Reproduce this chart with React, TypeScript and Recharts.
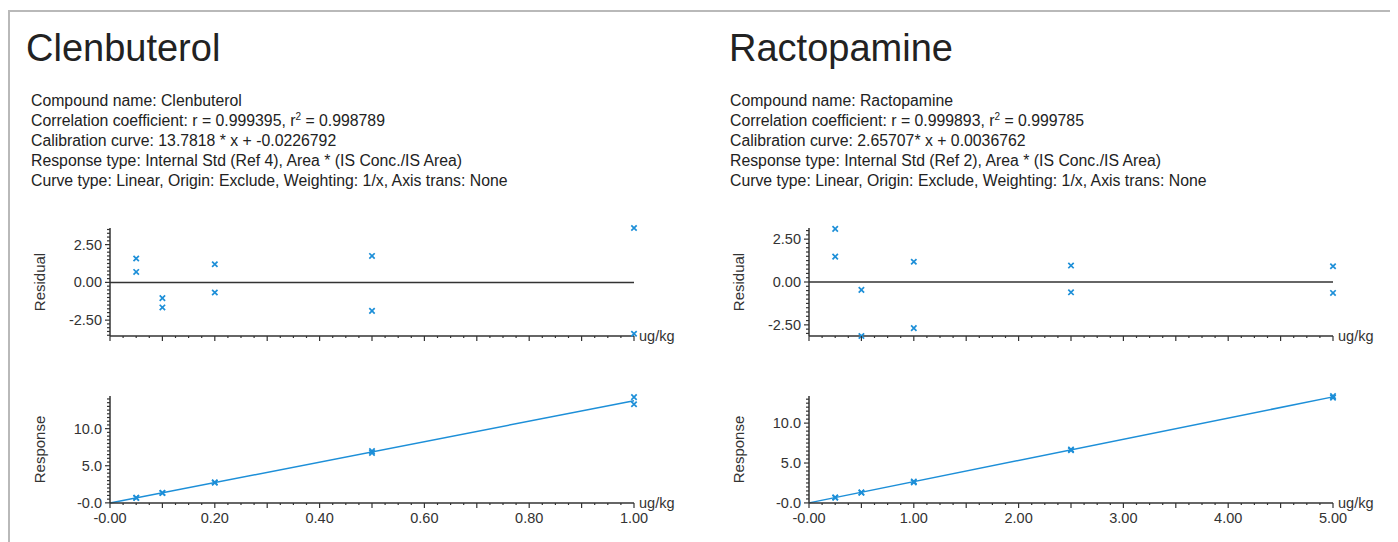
import { ComposedChart, Scatter, Line, XAxis, YAxis, ReferenceLine } from "recharts";

// concentrations (ug/kg), two replicates per level
const clenConc = [0.05, 0.05, 0.1, 0.1, 0.2, 0.2, 0.5, 0.5, 1.0, 1.0];
const clenResidual = [1.58, 0.69, -1.04, -1.66, 1.2, -0.67, 1.75, -1.89, 3.6, -3.4];
const clenResponse = [0.68, 0.67, 1.34, 1.33, 2.77, 2.71, 6.97, 6.73, 14.25, 13.29];
const clenFitX = [0, 1.0];
const clenFitY = [-0.02, 13.76];

const ractoConc = [0.25, 0.25, 0.5, 0.5, 1.0, 1.0, 2.5, 2.5, 5.0, 5.0];
const ractoResidual = [3.1, 1.48, -0.46, -3.15, 1.18, -2.69, 0.96, -0.6, 0.92, -0.64];
const ractoResponse = [0.68, 0.67, 1.32, 1.27, 2.69, 2.58, 6.7, 6.6, 13.39, 13.2];
const ractoFitX = [0, 5.0];
const ractoFitY = [0.004, 13.29];

const clenXLabels = ["-0.00", "0.20", "0.40", "0.60", "0.80", "1.00"];
const ractoXLabels = ["-0.00", "1.00", "2.00", "3.00", "4.00", "5.00"];
const residualLabels = ["-2.50", "0.00", "2.50"];
const responseLabels = ["-0.0", "5.0", "10.0"];

const clenInfo = [
  "Compound name: Clenbuterol",
  "Correlation coefficient: r = 0.999395, r|2| = 0.998789",
  "Calibration curve: 13.7818 * x + -0.0226792",
  "Response type: Internal Std (Ref 4), Area * (IS Conc./IS Area)",
  "Curve type: Linear, Origin: Exclude, Weighting: 1/x, Axis trans: None",
];
const ractoInfo = [
  "Compound name: Ractopamine",
  "Correlation coefficient: r = 0.999893, r|2| = 0.999785",
  "Calibration curve: 2.65707* x + 0.0036762",
  "Response type: Internal Std (Ref 2), Area * (IS Conc./IS Area)",
  "Curve type: Linear, Origin: Exclude, Weighting: 1/x, Axis trans: None",
];

const BLUE = "#1d8fd8";
const AXIS = "#333";
const FONT = "'Liberation Sans', Arial, sans-serif";

const steps = (from: number, to: number, step: number) => {
  const out: number[] = [];
  const n = Math.round((to - from) / step);
  for (let i = 0; i <= n; i++) out.push(+(from + i * step).toFixed(4));
  return out;
};
const near = (a: number, b: number) => Math.abs(a - b) < 1e-6;

const Cross = (props: any) => {
  const { cx, cy } = props;
  if (cx == null || cy == null) return null;
  const s = 2.7;
  return (
    <path
      d={`M${cx - s},${cy - s}L${cx + s},${cy + s}M${cx - s},${cy + s}L${cx + s},${cy - s}`}
      stroke={BLUE}
      strokeWidth={1.7}
    />
  );
};

const makeXTick = (majorStep: number, labelVals: number[], labels: string[] | null, maxX: number) => (props: any) => {
  const { x, y, payload } = props;
  const v = payload.value;
  const ratio = v / majorStep;
  const major = near(ratio, Math.round(ratio));
  const li = labels ? labelVals.findIndex((l) => near(l, v)) : -1;
  return (
    <g>
      <line x1={x} x2={x} y1={y} y2={y + (major ? 5 : 2)} stroke={AXIS} strokeWidth={1.2} />
      {li >= 0 && labels && (
        <text x={x} y={y + 20} textAnchor="middle" fontSize={14.5} fill={AXIS} fontFamily={FONT}>
          {labels[li]}
        </text>
      )}
      {near(v, maxX) && (
        <text x={x + 5} y={y + 5} fontSize={14.5} fill={AXIS} fontFamily={FONT}>
          ug/kg
        </text>
      )}
    </g>
  );
};

const makeYTick = (majorVals: number[], labels: string[]) => (props: any) => {
  const { x, y, payload } = props;
  const v = payload.value;
  const li = majorVals.findIndex((m) => near(m, v));
  return (
    <g>
      <line x1={x} x2={x - (li >= 0 ? 5 : 3)} y1={y} y2={y} stroke={AXIS} strokeWidth={1.2} />
      {li >= 0 && (
        <text x={x - 8} y={y + 5} textAnchor="end" fontSize={14.5} fill={AXIS} fontFamily={FONT}>
          {labels[li]}
        </text>
      )}
    </g>
  );
};

const axisLine = { stroke: AXIS, strokeWidth: 1.5 };

type PanelProps = {
  left: number;
  titleLeft: number;
  title: string;
  info: string[];
  conc: number[];
  residual: number[];
  response: number[];
  fitX: number[];
  fitY: number[];
  xMax: number;
  xMajor: number;
  xLabelVals: number[];
  xLabels: string[];
  resDomain: [number, number];
  respDomain: [number, number];
};

const W = 674;
const YW = 90;

const Panel = (p: PanelProps) => {
  const resData = p.conc.map((x, i) => ({ x, y: p.residual[i] }));
  const respData = p.conc.map((x, i) => ({ x, y: p.response[i] }));
  const fitData = p.fitX.map((x, i) => ({ x, y: p.fitY[i] }));
  const xTicks = steps(0, p.xMax, p.xMajor / 4);
  const resTicks = steps(-3.5, 3.5, 0.25).filter((t) => t >= p.resDomain[0] && t <= p.resDomain[1]);
  const respTicks = steps(0, 14, 0.5).filter((t) => t >= p.respDomain[0] && t <= p.respDomain[1]);
  const margin = { top: 18, right: W - YW - 524, bottom: 0, left: 0 };
  const titleStyle = { fontSize: 15, fill: AXIS, fontFamily: FONT };
  return (
    <>
      <div
        style={{
          position: "absolute",
          left: p.left + p.titleLeft,
          top: 18,
          fontSize: 38,
          lineHeight: "44px",
          fontFamily: FONT,
          color: "#222",
        }}
      >
        {p.title}
      </div>
      <div style={{ position: "absolute", left: p.left + 11, top: 83, fontSize: 15.8, lineHeight: "20px", fontFamily: FONT, color: "#222" }}>
        {p.info.map((line, i) => {
          const parts = line.split("|");
          return (
            <div key={i} style={{ whiteSpace: "nowrap" }}>
              {parts.length === 3 ? (
                <>
                  {parts[0]}
                  <sup style={{ fontSize: 10, lineHeight: 0 }}>{parts[1]}</sup>
                  {parts[2]}
                </>
              ) : (
                line
              )}
            </div>
          );
        })}
      </div>
      <div style={{ position: "absolute", left: p.left, top: 202 }}>
        <ComposedChart width={W} height={150} margin={margin}>
          <XAxis
            type="number"
            dataKey="x"
            domain={[0, p.xMax]}
            ticks={xTicks}
            interval={0}
            height={24}
            tickSize={0}
            tickMargin={0}
            tickLine={false}
            axisLine={axisLine}
            tick={makeXTick(p.xMajor, p.xLabelVals, null, p.xMax)}
          />
          <YAxis
            type="number"
            dataKey="y"
            domain={p.resDomain}
            ticks={resTicks}
            interval={0}
            width={YW}
            tickSize={0}
            tickMargin={0}
            tickLine={false}
            axisLine={axisLine}
            tick={makeYTick([-2.5, 0, 2.5], residualLabels)}
            label={{ value: "Residual", angle: -90, position: "center", dx: -25, style: titleStyle }}
          />
          <ReferenceLine y={0} stroke={AXIS} strokeWidth={1.5} />
          <Scatter data={resData} shape={Cross} isAnimationActive={false} />
        </ComposedChart>
      </div>
      <div style={{ position: "absolute", left: p.left, top: 372 }}>
        <ComposedChart width={W} height={157} margin={{ ...margin, top: 16 }}>
          <XAxis
            type="number"
            dataKey="x"
            domain={[0, p.xMax]}
            ticks={xTicks}
            interval={0}
            height={34}
            tickSize={0}
            tickMargin={0}
            tickLine={false}
            axisLine={axisLine}
            tick={makeXTick(p.xMajor, p.xLabelVals, p.xLabels, p.xMax)}
          />
          <YAxis
            type="number"
            dataKey="y"
            domain={p.respDomain}
            ticks={respTicks}
            interval={0}
            width={YW}
            tickSize={0}
            tickMargin={0}
            tickLine={false}
            axisLine={axisLine}
            tick={makeYTick([0, 5, 10], responseLabels)}
            label={{ value: "Response", angle: -90, position: "center", dx: -25, style: titleStyle }}
          />
          <Line
            data={fitData}
            dataKey="y"
            stroke={BLUE}
            strokeWidth={1.5}
            dot={false}
            activeDot={false}
            isAnimationActive={false}
          />
          <Scatter data={respData} shape={Cross} isAnimationActive={false} />
        </ComposedChart>
      </div>
    </>
  );
};

export default function App() {
  return (
    <div style={{ position: "relative", width: 1390, height: 534, overflow: "hidden", background: "#fff" }}>
      <div
        style={{
          position: "absolute",
          left: 0,
          top: 2,
          width: 1390,
          height: 532,
          borderLeft: "2px solid #b9b9b9",
          borderTop: "2px solid #b9b9b9",
        }}
      />
      <Panel
        left={12}
        titleLeft={6}
        title="Clenbuterol"
        info={clenInfo}
        conc={clenConc}
        residual={clenResidual}
        response={clenResponse}
        fitX={clenFitX}
        fitY={clenFitY}
        xMax={1.0}
        xMajor={0.1}
        xLabelVals={[0, 0.2, 0.4, 0.6, 0.8, 1.0]}
        xLabels={clenXLabels}
        resDomain={[-3.55, 3.6]}
        respDomain={[-0.02, 14.4]}
      />
      <Panel
        left={711}
        titleLeft={10}
        title="Ractopamine"
        info={ractoInfo}
        conc={ractoConc}
        residual={ractoResidual}
        response={ractoResponse}
        fitX={ractoFitX}
        fitY={ractoFitY}
        xMax={5.0}
        xMajor={0.5}
        xLabelVals={[0, 1, 2, 3, 4, 5]}
        xLabels={ractoXLabels}
        resDomain={[-3.15, 3.15]}
        respDomain={[-0.01, 13.4]}
      />
    </div>
  );
}
